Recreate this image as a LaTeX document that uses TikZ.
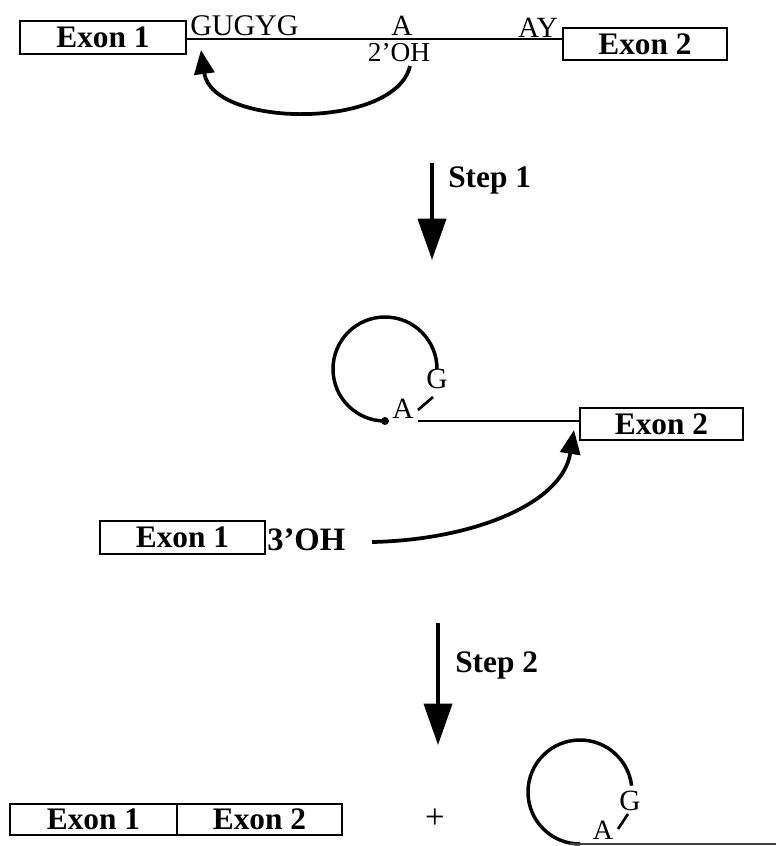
\documentclass[tikz,border=0pt]{standalone}
\usepackage{fontspec}
\setmainfont{Liberation Serif}
\usetikzlibrary{arrows.meta}
\begin{document}
\begin{tikzpicture}[x=0.75pt,y=-0.75pt,
  exonbox/.style={draw,line width=2pt,minimum width=123.5pt,minimum height=24.5pt,inner sep=0pt,font=\fontsize{23.5}{27}\selectfont\bfseries},
  reg/.style={inner sep=0pt,font=\fontsize{20.5}{24}\selectfont},
  bld/.style={inner sep=0pt,font=\fontsize{23.5}{27}\selectfont\bfseries},
  strand/.style={line width=2pt},
  loopline/.style={line width=2.6pt},
  dashmark/.style={line width=2pt},
  curvearrow/.style={line width=2.8pt,-{Triangle[length=18pt,width=15pt]}},
  steparrow/.style={line width=2.8pt,-{Triangle[length=31pt,width=21pt]}}]
\useasboundingbox (0,0) rectangle (776,846);

% ---- top: pre-mRNA ----
\node[exonbox,minimum width=124.5pt,minimum height=24.75pt] (t1) at (103,37.5) {Exon 1};
\node[exonbox,minimum width=123pt,minimum height=24pt] (t2) at (645,44) {Exon 2};
\coordinate (tl) at (186,39);
\draw[strand] (tl) -- (tl -| t2.west);
\node[reg,anchor=base west,font=\fontsize{22.5}{26}\selectfont] (gu) at (190,35) {GUGYG};
\node[reg,anchor=base,font=\fontsize{22}{26}\selectfont] (ta) at (402,35) {A};
\node[reg,anchor=base] (oh2) at (399,61) {2’OH};
\node[reg,anchor=base,font=\fontsize{22}{26}\selectfont] (ay) at (538,37) {AY};
\coordinate (c1s) at (410,66);
\coordinate (c1e) at (201,50);
\draw[curvearrow] (c1s) .. controls (395,130) and (212,128) .. (c1e);

% ---- step 1 ----
\coordinate (s1a) at (432,163);
\coordinate (s1b) at (432,260);
\draw[steparrow] (s1a) -- (s1b);
\node[bld,anchor=base west] (st1) at (448,187) {Step 1};

% ---- middle: lariat intermediate ----
\draw[loopline] (385,421) arc[start angle=270,end angle=0,radius=39pt];
\fill (385,421) circle[radius=3pt];
\node[reg,anchor=base,font=\fontsize{22}{26}\selectfont] (ma) at (403,418) {A};
\node[reg,anchor=base,font=\fontsize{22}{26}\selectfont] (mg) at (437,388) {G};
\draw[dashmark] (418,410) -- (433,397);
\node[exonbox,minimum width=122.25pt,minimum height=24pt] (m2) at (661.5,424) {Exon 2};
\coordinate (ml) at (418,421);
\draw[strand] (ml) -- (ml -| m2.west);

\node[exonbox,minimum width=123.75pt,minimum height=24.75pt] (m1) at (182.5,537.5) {Exon 1};
\node[bld,anchor=base west,font=\fontsize{24.5}{28}\selectfont\bfseries] (oh3) at (267,550) {3’OH};
\coordinate (c2s) at (372,542);
\coordinate (c2e) at (574,430);
\draw[curvearrow] (c2s) .. controls (470,540) and (562,505) .. (c2e);

% ---- step 2 ----
\coordinate (s2a) at (438,623);
\coordinate (s2b) at (438,745);
\draw[steparrow] (s2a) -- (s2b);
\node[bld,anchor=base west] (st2) at (455,672) {Step 2};

% ---- bottom: products ----
\node[exonbox,minimum width=125.25pt,minimum height=23.25pt] (b1) at (93.5,819.5) {Exon 1};
\node[exonbox,minimum width=123.75pt,minimum height=23.25pt] (b2) at (259.5,819.5) {Exon 2};
\node[reg,font=\fontsize{26}{30}\selectfont] (plus) at (435,819) {+};
\draw[loopline] (580,844) arc[start angle=270,end angle=7,radius=39pt];
\node[reg,anchor=base,font=\fontsize{21}{25}\selectfont] (ba) at (603,839) {A};
\node[reg,anchor=base,font=\fontsize{22}{26}\selectfont] (bg) at (630,810) {G};
\draw[dashmark] (618,829) -- (628,814);
\coordinate (bl) at (570,844);
\coordinate (br) at (776,844);
\draw[strand,black!75] (bl) -- (br);
\end{tikzpicture}
\end{document}
